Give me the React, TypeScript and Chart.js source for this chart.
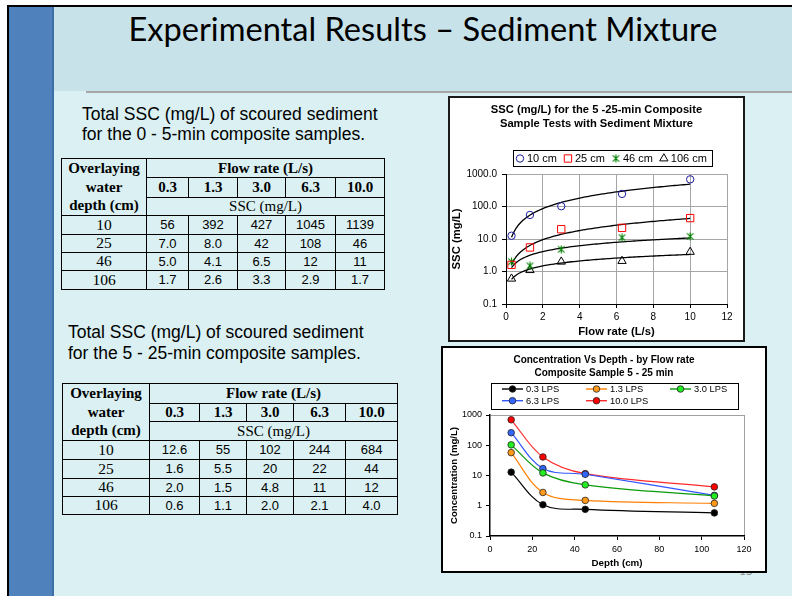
import React, { useEffect, useRef } from 'react';
import { Chart, registerables } from 'chart.js';

Chart.register(...registerables);
Chart.defaults.font.family = '"Liberation Sans", Arial, sans-serif';
Chart.defaults.color = '#000';

// ---------------- data ----------------
const flowRates = [0.3, 1.3, 3.0, 6.3, 10.0];
const flowRateLabels = ['0.3', '1.3', '3.0', '6.3', '10.0'];
const depthLabels = ['10', '25', '46', '106'];

// 0 - 5-min composite samples, SSC (mg/L)
const early10cm = [56, 392, 427, 1045, 1139];
const early25cm = [7.0, 8.0, 42, 108, 46];
const early46cm = [5.0, 4.1, 6.5, 12, 11];
const early106cm = [1.7, 2.6, 3.3, 2.9, 1.7];

// 5 - 25-min composite samples, SSC (mg/L)
const late10cm = [12.6, 55, 102, 244, 684];
const late25cm = [1.6, 5.5, 20, 22, 44];
const late46cm = [2.0, 1.5, 4.8, 11, 12];
const late106cm = [0.6, 1.1, 2.0, 2.1, 4.0];
const depthSeriesLabels = ['10 cm', '25 cm', '46 cm', '106 cm'];

// Concentration vs depth chart
const depthPositions = [10, 25, 45, 106];
const lps03 = [12.9, 1.08, 0.76, 0.58];
const lps13 = [57, 2.75, 1.5, 1.2];
const lps30 = [103, 12.2, 4.9, 2.1];
const lps63 = [260, 17, 11, 2.2];
const lps100 = [695, 41, 11.5, 4.2];
const lpsLabels = ['0.3 LPS', '1.3 LPS', '3.0 LPS', '6.3 LPS', '10.0 LPS'];

const logTickValues = [0.1, 1, 10, 100, 1000];
const sscTickLabels = ['0.1', '1.0', '10.0', '100.0', '1000.0'];
const concTickLabels = ['0.1', '1', '10', '100', '1000'];

const chart1Title = ['SSC (mg/L) for the 5 -25-min Composite', 'Sample Tests with Sediment Mixture'];
const chart2Title = ['Concentration Vs Depth - by Flow rate', 'Composite Sample 5 - 25 min'];

// ---------------- helpers ----------------
const serif = '"Liberation Serif", "Times New Roman", serif';
const sans = '"Liberation Sans", Arial, sans-serif';

function fmt(v: number) {
  return Number.isInteger(v) && v >= 10 ? String(v) : v.toFixed(1);
}

function powerFit(xs: number[], ys: number[]) {
  const lx = xs.map(Math.log);
  const ly = ys.map(Math.log);
  const n = xs.length;
  const mx = lx.reduce((a, b) => a + b, 0) / n;
  const my = ly.reduce((a, b) => a + b, 0) / n;
  let sxy = 0;
  let sxx = 0;
  for (let i = 0; i < n; i++) {
    sxy += (lx[i] - mx) * (ly[i] - my);
    sxx += (lx[i] - mx) * (lx[i] - mx);
  }
  const b = sxy / sxx;
  const a = Math.exp(my - b * mx);
  return (x: number) => a * Math.pow(x, b);
}

function trendPoints(xs: number[], ys: number[]) {
  const f = powerFit(xs, ys);
  const x0 = xs[0];
  const x1 = xs[xs.length - 1];
  const steps = 80;
  const pts: { x: number; y: number }[] = [];
  for (let i = 0; i <= steps; i++) {
    const x = x0 + ((x1 - x0) * i) / steps;
    pts.push({ x, y: f(x) });
  }
  return pts;
}

function makeAsterisk(color: string, size: number) {
  const c = document.createElement('canvas');
  c.width = size;
  c.height = size;
  const g = c.getContext('2d')!;
  g.strokeStyle = color;
  g.lineWidth = 1.1;
  const m = size / 2;
  const r = size / 2 - 0.5;
  const d = r * 0.8;
  g.beginPath();
  g.moveTo(m - d, m - d);
  g.lineTo(m + d, m + d);
  g.moveTo(m + d, m - d);
  g.lineTo(m - d, m + d);
  g.moveTo(m, m - r);
  g.lineTo(m, m + r);
  g.stroke();
  return c;
}

function drawMarker(ctx: CanvasRenderingContext2D, style: any, x: number, y: number, r: number, stroke: string, fill: string, lw: number) {
  ctx.save();
  if (style instanceof HTMLCanvasElement) {
    ctx.drawImage(style, x - style.width / 2, y - style.height / 2);
    ctx.restore();
    return;
  }
  ctx.lineWidth = lw;
  ctx.strokeStyle = stroke;
  ctx.fillStyle = fill;
  ctx.beginPath();
  if (style === 'rect') {
    const s = r * Math.SQRT1_2;
    ctx.rect(x - s, y - s, 2 * s, 2 * s);
  } else if (style === 'triangle') {
    for (let k = 0; k < 3; k++) {
      const a = (k * 2 * Math.PI) / 3;
      const px = x + Math.sin(a) * r;
      const py = y - Math.cos(a) * r;
      if (k === 0) ctx.moveTo(px, py);
      else ctx.lineTo(px, py);
    }
    ctx.closePath();
  } else {
    ctx.arc(x, y, r, 0, Math.PI * 2);
  }
  if (fill && fill !== 'transparent') ctx.fill();
  ctx.stroke();
  ctx.restore();
}

function logTicks(scale: any) {
  scale.ticks = logTickValues.map((v) => ({ value: v }));
}

// an invisible right-hand spacer axis, so the title stays centred on the whole canvas
function spacerAxis(width: number) {
  return {
    type: 'linear',
    position: 'right',
    display: true,
    afterFit: (s: any) => {
      s.width = width;
    },
    ticks: { display: false },
    grid: { display: false, drawTicks: false },
    border: { display: false },
  };
}

// ---------------- chart 1 ----------------
function buildChart1() {
  const series = [late10cm, late25cm, late46cm, late106cm];
  const styles: any[] = ['circle', 'rect', makeAsterisk('#008000', 9), 'triangle'];
  const colors = ['#1c1c9c', '#ff0000', '#008000', '#000000'];
  const radii = [3.7, 5.2, 4.5, 4.8];
  const markerSets = series.map((ys, i) => ({
    type: 'scatter',
    label: depthSeriesLabels[i],
    data: flowRates.map((x, j) => ({ x, y: ys[j] })),
    pointStyle: styles[i],
    pointRadius: radii[i],
    pointHoverRadius: radii[i],
    borderColor: colors[i],
    backgroundColor: 'transparent',
    borderWidth: 1,
    showLine: false,
    order: 0,
  }));
  const trendSets = series.map((ys, i) => ({
    type: 'scatter',
    label: depthSeriesLabels[i] + ' trend',
    data: trendPoints(flowRates, ys),
    showLine: true,
    pointRadius: 0,
    borderColor: '#000',
    backgroundColor: '#000',
    borderWidth: 1.3,
    order: 1,
  }));

  const legendPlugin = {
    id: 'sscLegend',
    afterDraw(chart: any) {
      const ctx: CanvasRenderingContext2D = chart.ctx;
      const box = { x: 63, y: 52, w: 199, h: 16 };
      ctx.save();
      ctx.strokeStyle = '#000';
      ctx.lineWidth = 1;
      ctx.strokeRect(box.x + 0.5, box.y + 0.5, box.w, box.h);
      ctx.font = '11px "Liberation Sans", Arial, sans-serif';
      ctx.textBaseline = 'middle';
      ctx.fillStyle = '#000';
      const cy = box.y + box.h / 2 + 0.5;
      let x = box.x + 7;
      chart.data.datasets.slice(0, 4).forEach((ds: any) => {
        drawMarker(ctx, ds.pointStyle, x, cy, ds.pointRadius, ds.borderColor, ds.backgroundColor, ds.borderWidth);
        const tx = x + 7;
        ctx.fillStyle = '#000';
        ctx.fillText(ds.label, tx, cy);
        x = tx + ctx.measureText(ds.label).width + 11;
      });
      ctx.restore();
    },
  };

  return {
    type: 'scatter',
    data: { datasets: [...markerSets, ...trendSets] },
    plugins: [legendPlugin],
    options: {
      responsive: false,
      animation: false,
      layout: { padding: 0 },
      plugins: {
        legend: { display: false },
        tooltip: { enabled: false },
        title: {
          display: true,
          text: chart1Title,
          color: '#000',
          font: { size: 11.2, weight: 'bold', lineHeight: 1.25 },
          padding: { top: 5, bottom: 43 },
        },
      },
      scales: {
        x: {
          type: 'linear',
          min: 0,
          max: 12,
          afterFit: (s: any) => {
            s.height = 36;
          },
          ticks: { stepSize: 2, font: { size: 10 }, color: '#000', padding: 3, maxRotation: 0 },
          grid: { color: '#a6a6a6', tickColor: '#000', tickLength: 4, lineWidth: 1 },
          border: { color: '#000', width: 1 },
          title: { display: true, text: 'Flow rate (L/s)', color: '#000', font: { size: 11.3, weight: 'bold' }, padding: { top: 0, bottom: 1 } },
        },
        y: {
          type: 'logarithmic',
          min: 0.1,
          max: 1000,
          afterFit: (s: any) => {
            s.width = 56;
          },
          afterBuildTicks: logTicks,
          ticks: { autoSkip: false, font: { size: 10 }, color: '#000', padding: 5, callback: (_v: any, i: number) => sscTickLabels[i] },
          grid: { color: '#a6a6a6', tickColor: '#000', tickLength: 4, lineWidth: 1 },
          border: { color: '#000', width: 1 },
          title: { display: true, text: 'SSC (mg/L)', color: '#000', font: { size: 11.3, weight: 'bold' }, padding: { top: 0, bottom: 0 } },
        },
        spacer: spacerAxis(16),
      },
    },
  };
}

// ---------------- chart 2 ----------------
function buildChart2() {
  const series = [lps03, lps13, lps30, lps63, lps100];
  const lineColors = ['#000000', '#ff7f00', '#0a9a0a', '#3355ff', '#ff2a2a'];
  const fillColors = ['#000000', '#ff9a1a', '#22ee22', '#3366ff', '#ff0000'];
  const datasets = series.map((ys, i) => ({
    label: lpsLabels[i],
    data: depthPositions.map((x, j) => ({ x, y: ys[j] })),
    borderColor: lineColors[i],
    backgroundColor: fillColors[i],
    pointBackgroundColor: fillColors[i],
    pointBorderColor: '#222',
    pointBorderWidth: 0.8,
    pointRadius: 3.3,
    pointHoverRadius: 3.3,
    borderWidth: 1.2,
    tension: 0.35,
    fill: false,
  }));

  const legendPlugin = {
    id: 'lpsLegend',
    afterDraw(chart: any) {
      const ctx: CanvasRenderingContext2D = chart.ctx;
      const box = { x: 48, y: 35, w: 247, h: 26 };
      ctx.save();
      ctx.strokeStyle = '#000';
      ctx.lineWidth = 1;
      ctx.strokeRect(box.x + 0.5, box.y + 0.5, box.w, box.h);
      ctx.font = '9.3px "Liberation Sans", Arial, sans-serif';
      ctx.textBaseline = 'middle';
      chart.data.datasets.forEach((ds: any, i: number) => {
        const col = i % 3;
        const row = Math.floor(i / 3);
        const lx = box.x + 11 + col * 84;
        const ly = box.y + 6 + row * 11.7;
        ctx.strokeStyle = ds.borderColor;
        ctx.lineWidth = 1.4;
        ctx.beginPath();
        ctx.moveTo(lx, ly);
        ctx.lineTo(lx + 21, ly);
        ctx.stroke();
        drawMarker(ctx, 'circle', lx + 10.5, ly, 3.3, '#222', ds.pointBackgroundColor, 0.8);
        ctx.fillStyle = '#000';
        ctx.fillText(ds.label, lx + 24, ly + 0.5);
      });
      ctx.restore();
    },
  };

  return {
    type: 'line',
    data: { datasets },
    plugins: [legendPlugin],
    options: {
      responsive: false,
      animation: false,
      layout: { padding: 0 },
      plugins: {
        legend: { display: false },
        tooltip: { enabled: false },
        title: {
          display: true,
          text: chart2Title,
          color: '#000',
          font: { size: 10, weight: 'bold', lineHeight: 1.3 },
          padding: { top: 5.5, bottom: 35.5 },
        },
      },
      scales: {
        x: {
          type: 'linear',
          min: 0,
          max: 120,
          afterFit: (s: any) => {
            s.height = 35;
          },
          ticks: { stepSize: 20, font: { size: 9 }, color: '#000', padding: 4.5, maxRotation: 0 },
          grid: {
            color: (c: any) => (c.tick && c.tick.value === 120 ? '#a0a0a0' : 'rgba(0,0,0,0)'),
            tickColor: '#000',
            tickLength: 4,
            lineWidth: 1,
          },
          border: { color: '#000', width: 1.5 },
          title: { display: true, text: 'Depth (cm)', color: '#000', font: { size: 9.8, weight: 'bold' }, padding: { top: 0, bottom: 2 } },
        },
        y: {
          type: 'logarithmic',
          min: 0.1,
          max: 1000,
          afterFit: (s: any) => {
            s.width = 47;
          },
          afterBuildTicks: logTicks,
          ticks: { autoSkip: false, font: { size: 9 }, color: '#000', padding: 4, callback: (_v: any, i: number) => concTickLabels[i] },
          grid: {
            color: (c: any) => (c.tick && c.tick.value === 1000 ? '#a0a0a0' : 'rgba(0,0,0,0)'),
            tickColor: '#000',
            tickLength: 4,
            lineWidth: 1,
          },
          border: { color: '#000', width: 1.5 },
          title: { display: true, text: 'Concentration (mg/L)', color: '#000', font: { size: 9.6, weight: 'bold' }, padding: { top: 6, bottom: 0 } },
        },
        spacer: spacerAxis(21),
      },
    },
  };
}

// ---------------- components ----------------
function ChartCanvas({ width, height, build }: { width: number; height: number; build: () => any }) {
  const ref = useRef<HTMLCanvasElement>(null);
  useEffect(() => {
    const chart = new Chart(ref.current as HTMLCanvasElement, build());
    return () => chart.destroy();
  }, []);
  return <canvas ref={ref} width={width} height={height} style={{ display: 'block', width, height }} />;
}

function SscTable({ left, top, colWidths, rowHeights, rows }: { left: number; top: number; colWidths: number[]; rowHeights: number[]; rows: number[][] }) {
  const total = colWidths.reduce((a, b) => a + b, 0);
  const base: React.CSSProperties = {
    border: '1px solid #000',
    padding: 0,
    textAlign: 'center',
    verticalAlign: 'middle',
    whiteSpace: 'nowrap',
    overflow: 'hidden',
    color: '#000',
  };
  return (
    <table style={{ position: 'absolute', left, top, width: total, borderCollapse: 'collapse', tableLayout: 'fixed' }}>
      <colgroup>
        {colWidths.map((w, i) => (
          <col key={i} style={{ width: w }} />
        ))}
      </colgroup>
      <tbody>
        <tr style={{ height: rowHeights[0] }}>
          <td rowSpan={3} style={{ ...base, font: `bold 15px/18.6px ${serif}` }}>
            Overlaying
            <br />
            water
            <br />
            depth (cm)
          </td>
          <td colSpan={5} style={{ ...base, font: `bold 15px/16px ${serif}` }}>Flow rate (L/s)</td>
        </tr>
        <tr style={{ height: rowHeights[1] }}>
          {flowRateLabels.map((l) => (
            <td key={l} style={{ ...base, font: `bold 15px/16px ${serif}` }}>{l}</td>
          ))}
        </tr>
        <tr style={{ height: rowHeights[2] }}>
          <td colSpan={5} style={{ ...base, font: `15px/16px ${serif}` }}>SSC (mg/L)</td>
        </tr>
        {rows.map((r, i) => (
          <tr key={i} style={{ height: rowHeights[3 + i] }}>
            <td style={{ ...base, font: `15.5px/16px ${serif}` }}>{depthLabels[i]}</td>
            {r.map((v, j) => (
              <td key={j} style={{ ...base, font: `13px/15px ${sans}` }}>{fmt(v)}</td>
            ))}
          </tr>
        ))}
      </tbody>
    </table>
  );
}

export default function App() {
  return (
    <div style={{ position: 'fixed', left: 0, top: 0, width: 792, height: 596, overflow: 'hidden', background: '#fff' }}>
      {/* slide frame */}
      <div style={{ position: 'absolute', left: 7, top: 5, width: 800, height: 600, borderTop: '2px solid #000', borderLeft: '2px solid #000', background: '#daf0f2' }} />
      {/* sidebar */}
      <div style={{ position: 'absolute', left: 9, top: 7, width: 43, height: 600, background: '#4f81bd', borderRight: '2px solid #3e6ea6' }} />
      {/* header */}
      <div style={{ position: 'absolute', left: 54, top: 7, width: 740, height: 84, background: '#c8e2e9' }} />
      <div style={{ position: 'absolute', left: 86, top: 91, width: 710, height: 2, background: '#a6a6a6' }} />
      <div style={{ position: 'absolute', left: 54, top: 13, width: 738, textAlign: 'center', font: '32.6px/32.6px Lato, "Open Sans", sans-serif', color: '#000', whiteSpace: 'nowrap' }}>
        Experimental Results – Sediment Mixture
      </div>

      {/* left texts */}
      <div style={{ position: 'absolute', left: 82, top: 104, font: `17.5px/20px ${sans}`, color: '#000', whiteSpace: 'nowrap' }}>
        Total SSC (mg/L) of scoured sediment
        <br />
        for the 0 - 5-min composite samples.
      </div>
      <SscTable
        left={61}
        top={158}
        colWidths={[85, 42, 49, 48, 50, 49]}
        rowHeights={[19, 19, 18, 19, 18, 18, 19]}
        rows={[early10cm, early25cm, early46cm, early106cm]}
      />

      <div style={{ position: 'absolute', left: 68, top: 322, font: `17.5px/20.5px ${sans}`, color: '#000', whiteSpace: 'nowrap' }}>
        Total SSC (mg/L) of scoured sediment
        <br />
        for the 5 - 25-min composite samples.
      </div>
      <SscTable
        left={62}
        top={383}
        colWidths={[87, 50, 47, 47, 52, 52]}
        rowHeights={[19, 18, 18, 19, 19, 18, 18]}
        rows={[late10cm, late25cm, late46cm, late106cm]}
      />

      {/* page number (mostly hidden behind chart box) */}
      <div style={{ position: 'absolute', left: 739, top: 564, font: '12px/14px Lato, "Open Sans", sans-serif', color: '#8c8c8c' }}>15</div>

      {/* chart 1 */}
      <div style={{ position: 'absolute', left: 448, top: 96, border: '2px solid #1a1a1a', background: '#fff' }}>
        <ChartCanvas width={293} height={242} build={buildChart1} />
      </div>

      {/* chart 2 */}
      <div style={{ position: 'absolute', left: 441, top: 346, border: '2px solid #000', background: '#fff' }}>
        <ChartCanvas width={322} height={223} build={buildChart2} />
      </div>
    </div>
  );
}
